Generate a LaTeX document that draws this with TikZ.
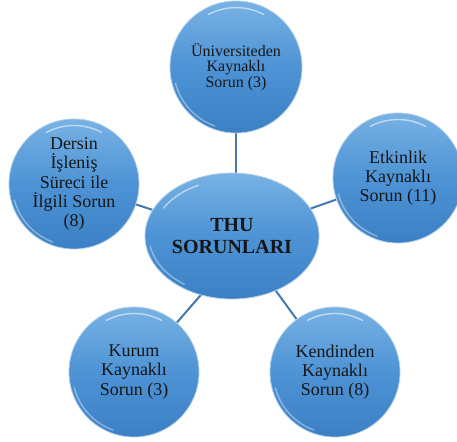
\documentclass[tikz,border=0pt]{standalone}
\usepackage{fontspec}
\setmainfont{Liberation Serif}
\usetikzlibrary{shapes.geometric,backgrounds,calc}
\definecolor{ballLight}{HTML}{78B2E4}
\definecolor{ballMid}{HTML}{4D93D5}
\definecolor{ballDark}{HTML}{3B80C4}
\definecolor{linkBlue}{HTML}{4279AF}
\definecolor{txt}{HTML}{161616}
\begin{document}
\begin{tikzpicture}[x=1pt,y=-1pt,
  ballbase/.style={inner sep=0pt, top color=ballLight, bottom color=ballDark, middle color=ballMid,
    draw=white!55!ballMid, line width=0.8pt, align=center, text=txt},
  ball/.style={ballbase, circle, minimum size=#1, font=\fontsize{18}{19.3}\selectfont},
  link/.style={draw=linkBlue, line width=2pt},
  shine/.style={white, opacity=.55, line width=1.4pt, line cap=round}]
\useasboundingbox (0,0) rectangle (457,441);
\node[ballbase, ellipse, minimum width=174pt, minimum height=126pt,
  font=\bfseries\fontsize{20}{21.5}\selectfont] (c) at (232,236) {THU\\SORUNLARI};
\node[ball=132pt, font=\fontsize{16}{15.6}\selectfont] (uni) at (236,67) {Üniversiteden\\Kaynaklı\\Sorun (3)};
\node[ball=130pt] (ders) at (74,184) {Dersin\\İşleniş\\Süreci ile\\İlgili Sorun\\(8)};
\node[ball=130pt] (etk) at (398,178) {Etkinlik\\Kaynaklı\\Sorun (11)};
\node[ball=130pt] (kur) at (134,372) {Kurum\\Kaynaklı\\Sorun (3)};
\node[ball=130pt] (ken) at (335,372) {Kendinden\\Kaynaklı\\Sorun (8)};
\coordinate (ctop) at (uni.south |- c.north);
\coordinate (cbl) at ($(c.center)+(20,0)$);
\coordinate (cbr) at ($(c.center)+(4,0)$);
\begin{pgfonlayer}{background}
  \draw[link] (uni.south) -- (ctop);
  \draw[link] (ders) -- (c);
  \draw[link] (etk) -- (c);
  \draw[link] (kur) -- (cbl);
  \draw[link] (ken) -- (cbr);
\end{pgfonlayer}
\foreach \n/\r in {uni/66,ders/65,etk/65,kur/65,ken/65}{
  \draw[shine] ($(\n.center)+(-62:0.9*\r)$) arc[start angle=-62, end angle=-118, radius=0.9*\r];
  \draw[shine, opacity=.4] ($(\n.center)+(-195:0.95*\r)$) arc[start angle=-195, end angle=-250, radius=0.95*\r];
}
\draw[shine] ($(c.center)+(-150:79 and 56)$) arc[start angle=-150, end angle=-115, x radius=79, y radius=56];
\draw[shine, opacity=.4] ($(c.center)+(-190:83 and 59)$) arc[start angle=-190, end angle=-235, x radius=83, y radius=59];
\end{tikzpicture}
\end{document}
